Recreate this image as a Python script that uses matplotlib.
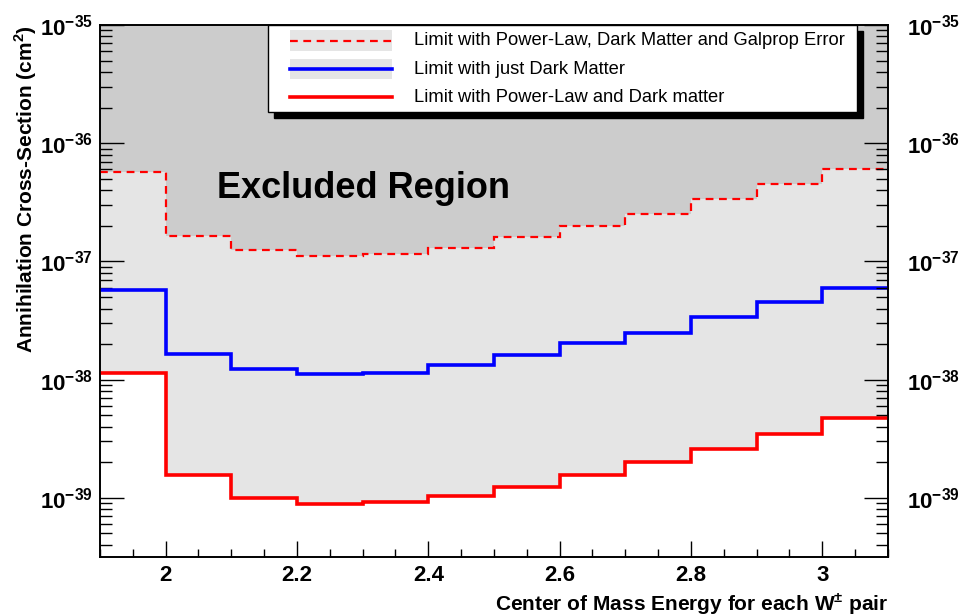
import numpy as np
import matplotlib.pyplot as plt
from matplotlib.patches import Rectangle
from matplotlib.lines import Line2D
from matplotlib.ticker import MultipleLocator, LogLocator, FuncFormatter, NullFormatter

plt.rcParams['font.family'] = ['Liberation Sans', 'DejaVu Sans']
plt.rcParams['mathtext.fontset'] = 'custom'
plt.rcParams['mathtext.rm'] = 'Liberation Sans'
plt.rcParams['mathtext.bf'] = 'Liberation Sans:bold'

# bin edges in centre-of-mass energy
edges = [1.9, 2.0, 2.1, 2.2, 2.3, 2.4, 2.5, 2.6, 2.7, 2.8, 2.9, 3.0, 3.1]

# upper limits on the annihilation cross-section (cm^2)
limit_galprop = [5.7e-37, 1.65e-37, 1.24e-37, 1.12e-37, 1.15e-37, 1.31e-37,
                 1.6e-37, 2.0e-37, 2.5e-37, 3.4e-37, 4.5e-37, 6.0e-37]
limit_dm = [5.7e-38, 1.66e-38, 1.24e-38, 1.12e-38, 1.15e-38, 1.32e-38,
            1.62e-38, 2.04e-38, 2.5e-38, 3.38e-38, 4.5e-38, 6.0e-38]
limit_pl_dm = [1.15e-38, 1.57e-39, 1.0e-39, 8.8e-40, 9.2e-40, 1.04e-39,
               1.24e-39, 1.57e-39, 2.0e-39, 2.6e-39, 3.5e-39, 4.7e-39]

legend_labels = ['Limit with Power-Law, Dark Matter and Galprop Error',
                 'Limit with just Dark Matter',
                 'Limit with Power-Law and Dark matter']

ymin, ymax = 10**-39.5, 1e-35
dash = (0, (3.5, 2.5))

fig = plt.figure(figsize=(9.63, 6.15), dpi=100)
ax = fig.add_axes([0.1038, 0.0943, 0.8183, 0.865])
ax.set_facecolor('#cccccc')

# shaded regions
ax.stairs(limit_galprop, edges, baseline=limit_pl_dm, fill=True, color='#e5e5e5', zorder=1)
ax.stairs(limit_pl_dm, edges, baseline=ymin, fill=True, color='white', zorder=1)

# limit curves
ax.stairs(limit_galprop, edges, baseline=None, color='red', lw=1.6, linestyle=dash, zorder=3)
ax.stairs(limit_dm, edges, baseline=None, color='blue', lw=2.6, zorder=3)
ax.stairs(limit_pl_dm, edges, baseline=None, color='red', lw=2.6, zorder=3)

ax.set_yscale('log')
ax.set_xlim(edges[0], edges[-1])
ax.set_ylim(ymin, ymax)

ax.xaxis.set_major_locator(MultipleLocator(0.2))
ax.xaxis.set_minor_locator(MultipleLocator(0.05))
ax.xaxis.set_major_formatter(FuncFormatter(lambda v, p: f'{v:g}'))
ax.tick_params(axis='x', which='major', direction='in', length=11.5, width=1,
               top=False, labelsize=16, pad=6)
ax.tick_params(axis='x', which='minor', direction='in', length=5.8, width=1, top=False)
for lab in ax.get_xticklabels():
    lab.set_fontweight('bold')


def exp_label(v, p):
    # only label decades that fall inside the visible range
    if v < ymin * 0.999 or v > ymax * 1.001:
        return ''
    return r'$\mathbf{10^{%d}}$' % int(round(np.log10(v)))


def style_y(a):
    a.set_yscale('log')
    a.set_ylim(ymin, ymax)
    a.yaxis.set_major_locator(LogLocator(base=10, numticks=10))
    a.yaxis.set_minor_locator(LogLocator(base=10, subs=np.arange(2, 10), numticks=10))
    a.yaxis.set_major_formatter(FuncFormatter(exp_label))
    a.yaxis.set_minor_formatter(NullFormatter())


style_y(ax)
ax.tick_params(axis='y', which='major', direction='in', length=17, width=1,
               right=False, labelsize=16, pad=5)
ax.tick_params(axis='y', which='minor', direction='in', length=8.5, width=1, right=False)

ax2 = ax.twinx()
style_y(ax2)
ax2.tick_params(axis='y', which='major', direction='in', length=17, width=1,
                labelsize=16, pad=14)
ax2.tick_params(axis='y', which='minor', direction='in', length=8.5, width=1)

for a in (ax, ax2):
    for s in a.spines.values():
        s.set_linewidth(1.2)

ax.set_xlabel(r'Center of Mass Energy for each W$^{\mathbf{\pm}}$ pair',
              fontsize=15, fontweight='bold', loc='right')
ax.xaxis.set_label_coords(1.0, -0.064)
ax.set_ylabel(r'Annihilation Cross-Section (cm$^{\mathbf{2}}$)',
              fontsize=15, fontweight='bold', loc='top')
ax.yaxis.set_label_coords(-0.077, 1.0)

ax.text(0.148, 0.675, 'Excluded Region', transform=ax.transAxes,
        fontsize=26, fontweight='bold', va='baseline', zorder=4)

# legend box with a black drop shadow
lx0, lx1, ly0, ly1 = 0.2132, 0.9607, 0.8365, 1.0
ax.add_patch(Rectangle((lx0 + 0.0078, ly0 - 0.0115), lx1 - lx0, ly1 - ly0,
                       transform=ax.transAxes, facecolor='black', edgecolor='black',
                       zorder=9, clip_on=False))
ax.add_patch(Rectangle((lx0, ly0), lx1 - lx0, ly1 - ly0, transform=ax.transAxes,
                       facecolor='white', edgecolor='black', lw=1, zorder=10,
                       clip_on=False))
styles = [dict(color='red', lw=1.6, linestyle=dash),
          dict(color='blue', lw=2.6),
          dict(color='red', lw=2.6)]
boxed = [True, True, False]
hx0, hx1 = 0.2411, 0.3706
for i, (label, st, box) in enumerate(zip(legend_labels, styles, boxed)):
    yy = 0.9705 - 0.0532 * i
    if box:
        ax.add_patch(Rectangle((hx0, yy - 0.0195), hx1 - hx0, 0.039, transform=ax.transAxes,
                               facecolor='#e5e5e5', edgecolor='none', zorder=11))
    ax.add_line(Line2D([hx0, hx1], [yy, yy], transform=ax.transAxes, zorder=12, **st))
    ax.text(0.3985, yy, label, transform=ax.transAxes, fontsize=13.2,
            va='center', ha='left', zorder=12)

fig.savefig('out.png', dpi=100)
